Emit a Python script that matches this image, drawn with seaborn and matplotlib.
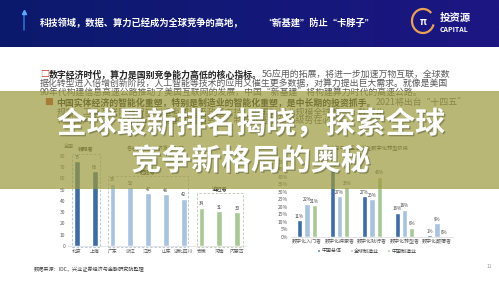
import numpy as np
import pandas as pd
import seaborn as sns
import matplotlib.pyplot as plt
import matplotlib.patheffects as pe
from matplotlib.patches import Rectangle, Arc
from matplotlib.colors import LinearSegmentedColormap

sns.set_style("white")
plt.rcParams['font.family'] = ['Noto Sans CJK SC', 'DejaVu Sans']

W, H = 499, 281

# 左图：各省市数字经济指数
provinces = ["北京", "上海", "广东", "浙江", "江苏", "山东", "湖北四川", "安徽", "河南", "内蒙古"]
index_values = [75, 66, 55, 52, 47, 46, 42, 34, 31, 30]
tiers = ["领跑者", "领跑者", "赶超者", "赶超者", "赶超者", "赶超者", "赶超者", "追赶者", "追赶者", "追赶者"]
tier_colors = {"领跑者": "#2e6cb3", "赶超者": "#9fc3e7", "追赶者": "#a8d08d"}

# 右图：数字化转型阶段 (%)
stages = ["数字化入门者", "数字化探索者", "数字化践行者", "数字化转型者", "数字化颠覆者"]
series_names = ["中国总体", "全球制造业", "中国制造业"]
china_all = [11, 45, 27, 16, 1]
global_mfg = [22, 27, 25, 18, 9]
china_mfg = [21, 33, 40, 6, 0]
series_colors = ["#2e6cb3", "#9fc3e7", "#a8d08d"]


def fx(x):
    return x / W


def fy(y):
    return 1 - y / H


fig = plt.figure(figsize=(W / 100, H / 100), dpi=100)
fig.patch.set_facecolor("white")
renderer = fig.canvas.get_renderer()

# 顶部深蓝色标题栏
hdr = fig.add_axes([0, fy(47), 1, 47 / H])
grad = np.linspace(0, 1, 256).reshape(1, -1)
cmap = LinearSegmentedColormap.from_list("hdr", ["#0b1a6c", "#131878", "#1d1683"])
hdr.imshow(grad, aspect="auto", cmap=cmap, extent=[0, 1, 0, 1])
hdr.axis("off")

fig.text(fx(40), fy(23), "科技领域，数据、算力已经成为全球竞争的高地，", fontsize=6.7,
         fontweight="bold", color="white", va="center")
fig.text(fx(263), fy(23), "“新基建”防止“卡脖子”", fontsize=6.7,
         fontweight="bold", color="white", va="center")
fig.add_artist(plt.Line2D([fx(24), fx(24)], [fy(14), fy(30)], color="#3f8fe8", lw=1.2, alpha=0.7))
fig.add_artist(plt.Line2D([fx(24)], [fy(12)], marker="^", color="#5aa8ff", markersize=3))

# logo
fig.add_artist(Arc((fx(423), fy(21)), 22 / W, 24 / H, theta1=60, theta2=330,
                   transform=fig.transFigure, color="#e9a15a", lw=1.6))
fig.text(fx(423), fy(22), "π", fontsize=7, color="white", ha="center", va="center", fontweight="bold")
fig.text(fx(440), fy(18), "投资源", fontsize=7.5, fontweight="bold", color="white", va="center")
fig.text(fx(440), fy(30), "CAPITAL", fontsize=5, fontweight="bold", color="white", va="center")


# 正文段落
def seg_line(x, y, parts, size=6.4):
    for txt, weight, color in parts:
        t = fig.text(fx(x), fy(y), txt, fontsize=size, fontweight=weight, color=color,
                     va="center", ha="left")
        x = t.get_window_extent(renderer).x1


red = "#c0392b"
dark = "#222222"
grey = "#5a5a5a"
seg_line(40, 75, [("□", "normal", red),
                  ("数字经济时代，算力是国别竞争能力高低的核心指标。", "bold", dark),
                  ("5G应用的拓展，将进一步加速万物互联，全球数", "normal", grey)])
seg_line(40, 84.5, [("据化转型进入倍增创新阶段，人工智能等技术的应用又催生更多数据，对算力提出巨大需求。就像是美国", "normal", grey)])
seg_line(40, 93.5, [("90年代构建信息高速公路推动了美国互联网的发展，中国“新基建”将构建算力时代的高速公路。", "normal", grey)])
seg_line(45, 102.5, [("■ ", "normal", red),
                     ("中国实体经济的智能化重塑，特别是制造业的智能化重塑，是中长期的投资抓手。", "bold", dark),
                     ("2021将出台“十四五”", "normal", grey)])
seg_line(57, 112, [("规划，工业互联网与智能制造有望迎来政策支持，中国制造业规模全球第一，数字化", "normal", grey)])
seg_line(57, 121, [("转型空间广阔，在全球产业链重构的趋势下，制造业智能化升级势在必行。", "normal", grey)])

# 左图
ax1 = fig.add_axes([fx(68), fy(246), (246 - 68) / W, 96 / H])
ax1.patch.set_alpha(0)
df1 = pd.DataFrame({"省市": provinces, "指数": index_values, "梯队": tiers})
sns.barplot(data=df1, x="省市", y="指数", hue="梯队", dodge=False, palette=tier_colors,
            width=0.32, legend=False, ax=ax1)
for c in ax1.containers:
    ax1.bar_label(c, fontsize=3.3, padding=1, color="#404040")
ax1.set_xlim(-0.5, 9.5)
ax1.set_ylim(0, 85)
ax1.set_yticks(range(0, 81, 10))
ax1.set_xlabel("")
ax1.set_ylabel("")
ax1.tick_params(axis="both", length=0, labelsize=3.5, colors="#595959", pad=2)
sns.despine(ax=ax1, left=True)
ax1.spines["bottom"].set_color("#d9d9d9")
ax1.spines["bottom"].set_linewidth(0.5)

boxes = [(-0.27, 1.3, 81.5, "领跑者", "#a9bfd8"),
         (1.75, 6.24, 62, "赶超者", "#b3c0cc"),
         (6.75, 9.33, 47, "追赶者", "#b9c9a9")]
for x0, x1, top, lab, col in boxes:
    ax1.add_patch(Rectangle((x0, -0.8), x1 - x0, top + 0.8, fill=False, edgecolor=col,
                            lw=0.6, linestyle=(0, (3, 2)), clip_on=False))
    ax1.text((x0 + x1) / 2, top + 3.5, lab, fontsize=3.8, fontweight="bold",
             color="#404040", ha="center", va="center", clip_on=False)

fig.text(fx(64), fy(146), "全国", fontsize=3.6, color="#595959", va="center")
fig.text(fx(127), fy(148), "各省市数字经济发展指数", fontsize=3.8, color="#404040", va="center")

# 右图
ax2 = fig.add_axes([fx(290.75), fy(236.7), 162.5 / W, 75 / H])
ax2.patch.set_alpha(0)
df2 = pd.DataFrame({
    "阶段": stages * 3,
    "类别": [series_names[0]] * 5 + [series_names[1]] * 5 + [series_names[2]] * 5,
    "占比": china_all + global_mfg + china_mfg,
})
sns.barplot(data=df2, x="阶段", y="占比", hue="类别", palette=series_colors,
            width=0.69, gap=0.33, ax=ax2)
for c in ax2.containers:
    ax2.bar_label(c, fmt="{:.0f}%", fontsize=3.2, padding=1, color="#404040")
ax2.set_xlim(-0.5, 4.5)
ax2.set_ylim(0, 50)
ax2.set_yticks(range(0, 51, 5))
ax2.set_yticklabels([f"{v}%" for v in range(0, 51, 5)])
ax2.set_xlabel("")
ax2.set_ylabel("")
ax2.tick_params(axis="both", length=0, labelsize=3.6, colors="#595959", pad=2)
sns.despine(ax=ax2, left=True)
ax2.spines["bottom"].set_color("#d9d9d9")
ax2.spines["bottom"].set_linewidth(0.5)
ax2.legend(loc="center", bbox_to_anchor=(fx(367), fy(251)), bbox_transform=fig.transFigure,
           ncol=3, fontsize=3.6, frameon=False, handlelength=0.6, handleheight=0.6,
           handletextpad=0.3, columnspacing=1.6, labelcolor="#404040")

fig.text(fx(367), fy(148), "全球与中国企业所处数字化转型阶段", fontsize=3.8, color="#404040",
         ha="center", va="center")

# 底部来源
fig.text(fx(34), fy(269), "数据来源：IDC，兴业证券经济与金融研究院整理", fontsize=3.7,
         color="#404040", va="center")
fig.text(fx(489), fy(266), "11", fontsize=3.5, color="#9a9a9a", ha="center", va="center")

# 横幅
fig.add_artist(Rectangle((0, fy(189)), 1, 98 / H, transform=fig.transFigure,
                         facecolor=(155 / 255, 153 / 255, 60 / 255), alpha=0.7,
                         edgecolor="none", zorder=10))
shadow = [pe.withSimplePatchShadow(offset=(1, -1), shadow_rgbFace="black", alpha=0.25)]
fig.text(fx(251), fy(124), "全球最新排名揭晓，探索全球", fontsize=21.5, fontweight="bold",
         color="white", ha="center", va="center", zorder=11, path_effects=shadow)
fig.text(fx(251), fy(161), "竞争新格局的奥秘", fontsize=21.5, fontweight="bold",
         color="white", ha="center", va="center", zorder=11, path_effects=shadow)

fig.savefig("out.png", dpi=100)
